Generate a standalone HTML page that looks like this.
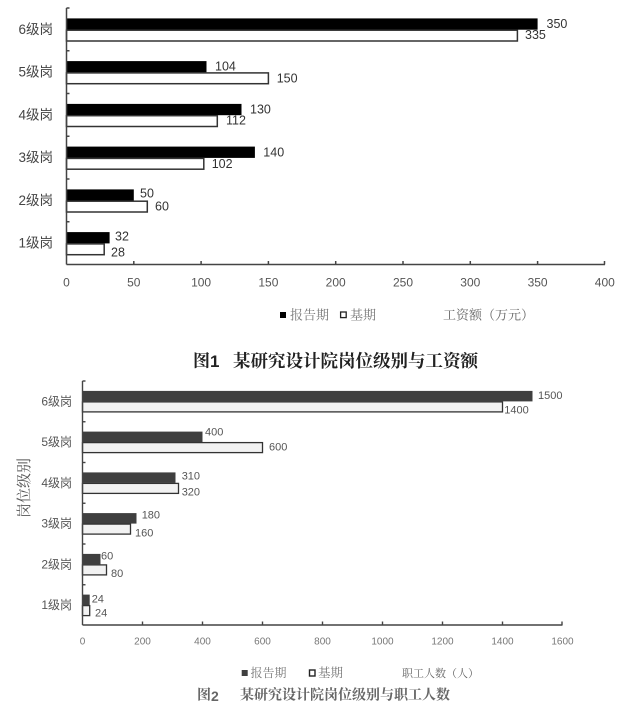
<!DOCTYPE html>
<html><head><meta charset="utf-8">
<style>
html,body{margin:0;padding:0;background:#fff;}
svg{display:block;}
.sans{font-family:"Liberation Sans","Noto Sans CJK SC",sans-serif;}
.serif{font-family:"Liberation Serif","Noto Serif CJK SC",serif;}
</style></head>
<body>
<svg width="643" height="719" viewBox="0 0 643 719" xmlns="http://www.w3.org/2000/svg">
<rect width="643" height="719" fill="#fff"/>

<!-- ============ CHART 1 ============ -->
<g>
  <!-- bars -->
  <!-- c = 8 + 42.75*(k+0.5) -->
  <!-- 6: c=29.4 -->
  <rect x="66.5" y="18.4" width="471.1" height="11.3" fill="#000"/>
  <rect x="66.5" y="30.2" width="450.9" height="10.8" fill="#fff" stroke="#333" stroke-width="1.5"/>
  <!-- 5: c=72.1 -->
  <rect x="66.5" y="61.1" width="140.0" height="11.3" fill="#000"/>
  <rect x="66.5" y="72.9" width="201.9" height="10.8" fill="#fff" stroke="#333" stroke-width="1.5"/>
  <!-- 4: c=114.9 -->
  <rect x="66.5" y="103.9" width="175.0" height="11.3" fill="#000"/>
  <rect x="66.5" y="115.7" width="150.8" height="10.8" fill="#fff" stroke="#333" stroke-width="1.5"/>
  <!-- 3: c=157.6 -->
  <rect x="66.5" y="146.6" width="188.4" height="11.3" fill="#000"/>
  <rect x="66.5" y="158.4" width="137.3" height="10.8" fill="#fff" stroke="#333" stroke-width="1.5"/>
  <!-- 2: c=200.4 -->
  <rect x="66.5" y="189.4" width="67.3" height="11.3" fill="#000"/>
  <rect x="66.5" y="201.2" width="80.8" height="10.8" fill="#fff" stroke="#333" stroke-width="1.5"/>
  <!-- 1: c=243.1 -->
  <rect x="66.5" y="232.1" width="43.1" height="11.3" fill="#000"/>
  <rect x="66.5" y="243.9" width="37.7" height="10.8" fill="#fff" stroke="#333" stroke-width="1.5"/>

  <!-- axes -->
  <g stroke="#444" stroke-width="1.5" fill="none">
    <line x1="66.5" y1="8" x2="66.5" y2="264.5"/>
    <line x1="66.5" y1="264.5" x2="605" y2="264.5"/>
    <!-- y ticks -->
    <line x1="66.5" y1="8" x2="69.5" y2="8"/>
    <line x1="66.5" y1="50.75" x2="69.5" y2="50.75"/>
    <line x1="66.5" y1="93.5" x2="69.5" y2="93.5"/>
    <line x1="66.5" y1="136.25" x2="69.5" y2="136.25"/>
    <line x1="66.5" y1="179" x2="69.5" y2="179"/>
    <line x1="66.5" y1="221.75" x2="69.5" y2="221.75"/>
    <!-- x ticks -->
    <line x1="133.8" y1="264.5" x2="133.8" y2="261"/>
    <line x1="201.1" y1="264.5" x2="201.1" y2="261"/>
    <line x1="268.4" y1="264.5" x2="268.4" y2="261"/>
    <line x1="335.7" y1="264.5" x2="335.7" y2="261"/>
    <line x1="403" y1="264.5" x2="403" y2="261"/>
    <line x1="470.3" y1="264.5" x2="470.3" y2="261"/>
    <line x1="537.6" y1="264.5" x2="537.6" y2="261"/>
    <line x1="604.5" y1="264.5" x2="604.5" y2="261"/>
  </g>

  <!-- category labels -->
  <g class="sans" font-size="13.5" fill="#444" text-anchor="end" dominant-baseline="central">
    <text x="53" y="29.4">6级岗</text>
    <text x="53" y="72.1">5级岗</text>
    <text x="53" y="114.9">4级岗</text>
    <text x="53" y="157.6">3级岗</text>
    <text x="53" y="200.4">2级岗</text>
    <text x="53" y="243.1">1级岗</text>
  </g>

  <!-- value labels -->
  <g class="sans" font-size="12.5" fill="#333" dominant-baseline="central">
    <text x="546.5" y="24">350</text>
    <text x="525" y="35">335</text>
    <text x="215" y="66.7">104</text>
    <text x="276.7" y="78.3">150</text>
    <text x="250" y="109.3">130</text>
    <text x="226" y="120.7">112</text>
    <text x="263.3" y="152.7">140</text>
    <text x="211.7" y="164">102</text>
    <text x="140" y="193.3">50</text>
    <text x="155" y="206.7">60</text>
    <text x="115" y="236.7">32</text>
    <text x="111" y="252.7">28</text>
  </g>

  <!-- x tick labels -->
  <g class="sans" font-size="12" fill="#555" text-anchor="middle" dominant-baseline="central">
    <text x="66.5" y="282.7">0</text>
    <text x="133.8" y="282.7">50</text>
    <text x="201.1" y="282.7">100</text>
    <text x="268.4" y="282.7">150</text>
    <text x="335.7" y="282.7">200</text>
    <text x="403" y="282.7">250</text>
    <text x="470.3" y="282.7">300</text>
    <text x="537.6" y="282.7">350</text>
    <text x="604.8" y="282.7">400</text>
  </g>

  <!-- legend -->
  <rect x="280" y="312" width="6" height="6" fill="#000"/>
  <text class="serif" x="290" y="315" font-size="13" fill="#777" dominant-baseline="central">报告期</text>
  <rect x="340.6" y="312" width="5.6" height="5.6" fill="#fff" stroke="#222" stroke-width="1.3"/>
  <text class="serif" x="350" y="315" font-size="13" fill="#777" dominant-baseline="central">基期</text>
  <text class="serif" x="443" y="315" font-size="13" fill="#666" dominant-baseline="central">工资额（万元）</text>

  <!-- title -->
  <text class="serif" x="193" y="361" font-size="17" font-weight="bold" fill="#222" dominant-baseline="central">图<tspan class="sans" font-family="Liberation Sans, sans-serif">1</tspan></text>
  <text class="serif" x="233" y="361" font-size="17.5" font-weight="bold" fill="#222" dominant-baseline="central">某研究设计院岗位级别与工资额</text>
</g>

<!-- ============ CHART 2 ============ -->
<g>
  <!-- c = 381 + 40.75*(k+0.5) -->
  <!-- 6: c=401.4 -->
  <rect x="82.5" y="390.9" width="450" height="10.5" fill="#3f3f3f"/>
  <rect x="82.5" y="401.9" width="420" height="10" fill="#f2f2f2" stroke="#333" stroke-width="1.3"/>
  <!-- 5: c=442.1 -->
  <rect x="82.5" y="431.6" width="120" height="10.5" fill="#3f3f3f"/>
  <rect x="82.5" y="442.6" width="180" height="10" fill="#f2f2f2" stroke="#333" stroke-width="1.3"/>
  <!-- 4: c=482.9 -->
  <rect x="82.5" y="472.4" width="93" height="10.5" fill="#3f3f3f"/>
  <rect x="82.5" y="483.4" width="96" height="10" fill="#f2f2f2" stroke="#333" stroke-width="1.3"/>
  <!-- 3: c=523.6 -->
  <rect x="82.5" y="513.1" width="54" height="10.5" fill="#3f3f3f"/>
  <rect x="82.5" y="524.1" width="48" height="10" fill="#f2f2f2" stroke="#333" stroke-width="1.3"/>
  <!-- 2: c=564.4 -->
  <rect x="82.5" y="553.9" width="18" height="10.5" fill="#3f3f3f"/>
  <rect x="82.5" y="564.9" width="24" height="10" fill="#f2f2f2" stroke="#333" stroke-width="1.3"/>
  <!-- 1: c=605.1 -->
  <rect x="82.5" y="594.6" width="7.2" height="10.5" fill="#3f3f3f"/>
  <rect x="82.5" y="605.6" width="7.2" height="10" fill="#f2f2f2" stroke="#333" stroke-width="1.3"/>

  <!-- axes -->
  <g stroke="#444" stroke-width="1.4" fill="none">
    <line x1="82.5" y1="381" x2="82.5" y2="625"/>
    <line x1="82.5" y1="625" x2="562.5" y2="625"/>
    <line x1="82.5" y1="381" x2="85.5" y2="381"/>
    <line x1="82.5" y1="421.75" x2="85.5" y2="421.75"/>
    <line x1="82.5" y1="462.5" x2="85.5" y2="462.5"/>
    <line x1="82.5" y1="503.25" x2="85.5" y2="503.25"/>
    <line x1="82.5" y1="544" x2="85.5" y2="544"/>
    <line x1="82.5" y1="584.75" x2="85.5" y2="584.75"/>
    <line x1="142.5" y1="625" x2="142.5" y2="621.5"/>
    <line x1="202.5" y1="625" x2="202.5" y2="621.5"/>
    <line x1="262.5" y1="625" x2="262.5" y2="621.5"/>
    <line x1="322.5" y1="625" x2="322.5" y2="621.5"/>
    <line x1="382.5" y1="625" x2="382.5" y2="621.5"/>
    <line x1="442.5" y1="625" x2="442.5" y2="621.5"/>
    <line x1="502.5" y1="625" x2="502.5" y2="621.5"/>
    <line x1="562" y1="625" x2="562" y2="621.5"/>
  </g>

  <!-- y axis title -->
  <text class="serif" x="0" y="0" font-size="15" fill="#555" text-anchor="middle" dominant-baseline="central" transform="translate(25,488) rotate(-90)">岗位级别</text>

  <!-- category labels -->
  <g class="sans" font-size="12" fill="#555" text-anchor="end" dominant-baseline="central">
    <text x="72" y="401.4">6级岗</text>
    <text x="72" y="442.1">5级岗</text>
    <text x="72" y="482.9">4级岗</text>
    <text x="72" y="523.6">3级岗</text>
    <text x="72" y="564.4">2级岗</text>
    <text x="72" y="605.1">1级岗</text>
  </g>

  <!-- value labels -->
  <g class="sans" font-size="11" fill="#555" dominant-baseline="central">
    <text x="538" y="396">1500</text>
    <text x="504.3" y="410.7">1400</text>
    <text x="205" y="432.7">400</text>
    <text x="269" y="447.7">600</text>
    <text x="181.7" y="476.7">310</text>
    <text x="181.7" y="492.3">320</text>
    <text x="141.7" y="515.7">180</text>
    <text x="135" y="533.3">160</text>
    <text x="101" y="556.7">60</text>
    <text x="111" y="574">80</text>
    <text x="91.7" y="599.3">24</text>
    <text x="95" y="613.3">24</text>
  </g>

  <!-- x tick labels -->
  <g class="sans" font-size="10" fill="#777" text-anchor="middle" dominant-baseline="central">
    <text x="82.5" y="642">0</text>
    <text x="142.5" y="642">200</text>
    <text x="202.5" y="642">400</text>
    <text x="262.5" y="642">600</text>
    <text x="322.5" y="642">800</text>
    <text x="382.5" y="642">1000</text>
    <text x="442.5" y="642">1200</text>
    <text x="502.5" y="642">1400</text>
    <text x="562.5" y="642">1600</text>
  </g>

  <!-- legend -->
  <rect x="241.7" y="670" width="6" height="6" fill="#3f3f3f"/>
  <text class="serif" x="250.5" y="673" font-size="12" fill="#777" dominant-baseline="central">报告期</text>
  <rect x="309.5" y="670" width="5.5" height="6" fill="#fff" stroke="#222" stroke-width="1.4"/>
  <text class="serif" x="318" y="673" font-size="12.5" fill="#777" dominant-baseline="central">基期</text>
  <text class="serif" x="402" y="674" font-size="11" fill="#666" dominant-baseline="central">职工人数（人）</text>

  <!-- title -->
  <text class="serif" x="197" y="696" font-size="14" font-weight="bold" fill="#666" dominant-baseline="central">图<tspan font-family="Liberation Sans, sans-serif">2</tspan></text>
  <text class="serif" x="240" y="696" font-size="14" font-weight="bold" fill="#666" dominant-baseline="central">某研究设计院岗位级别与职工人数</text>
</g>
</svg>
</body></html>
